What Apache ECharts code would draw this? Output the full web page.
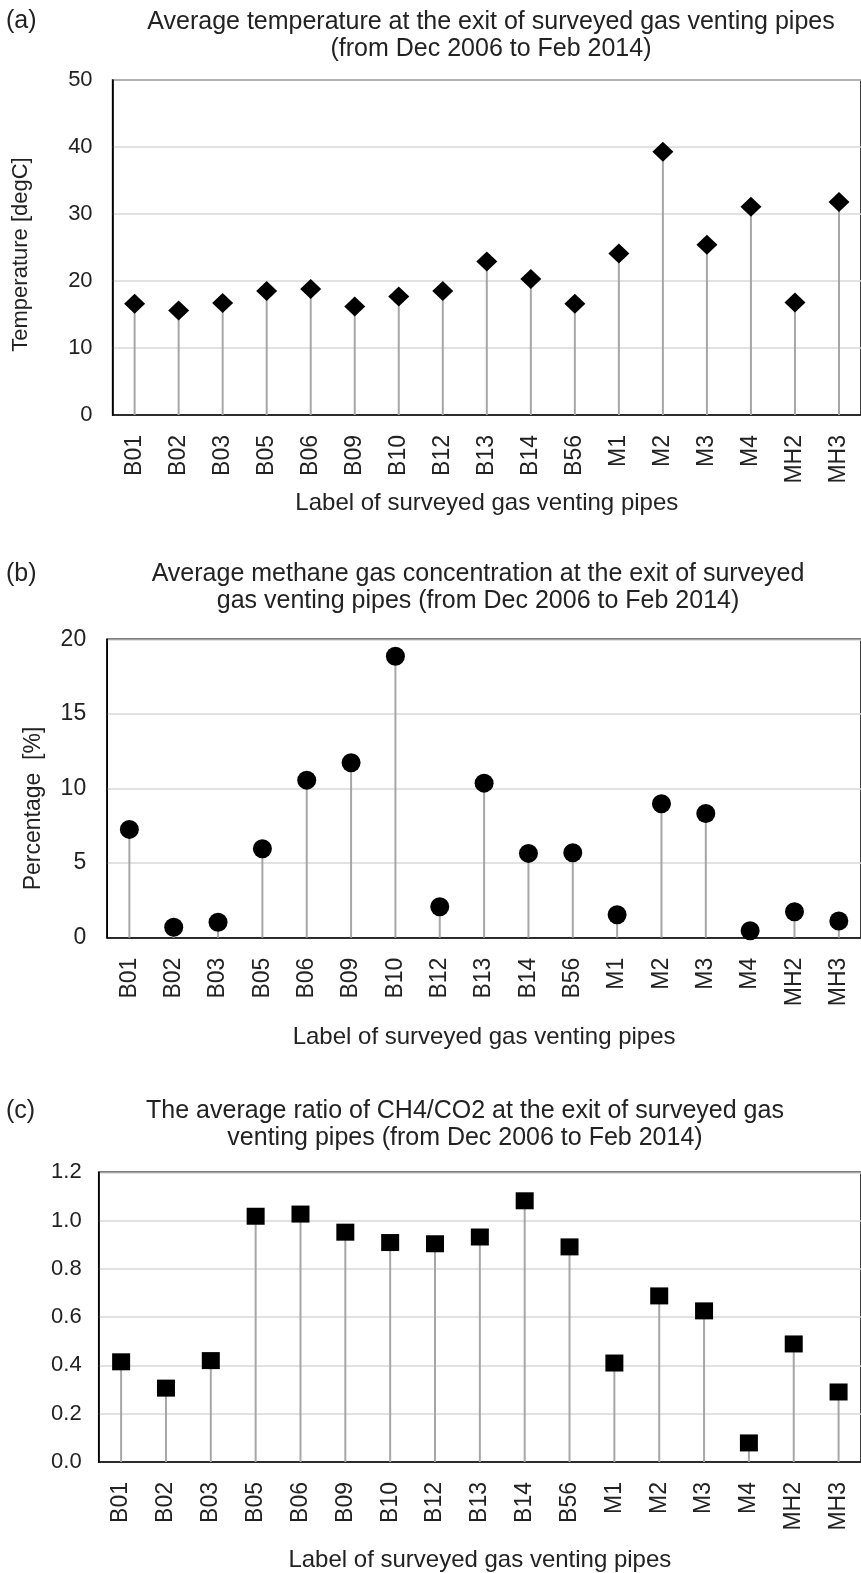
<!DOCTYPE html>
<html>
<head>
    <meta charset="utf-8">
    <title>Gas venting pipes</title>
    <script src="https://cdn.jsdelivr.net/npm/echarts@6/dist/echarts.min.js"></script>
    <style>
        html, body { margin: 0; padding: 0; background: #fff; }
    </style>
</head>
<body>
    <div id="main" style="width: 861px;height:1573px;"></div>
    <script>
        // pipe labels, shared by the three panels
        var pipes = ['B01','B02','B03','B05','B06','B09','B10','B12','B13','B14','B56','M1','M2','M3','M4','MH2','MH3'];

        // (a) average temperature [degC]
        var temperature = [16.6, 15.6, 16.7, 18.5, 18.8, 16.2, 17.7, 18.5, 22.9, 20.3, 16.6, 24.1, 39.3, 25.4, 31.1, 16.8, 31.8];
        // (b) average methane concentration [%]
        var methane = [7.26, 0.70, 1.03, 5.96, 10.56, 11.72, 18.87, 2.08, 10.36, 5.65, 5.69, 1.54, 8.98, 8.33, 0.47, 1.74, 1.12];
        // (c) average CH4/CO2 ratio
        var ratio = [0.415, 0.306, 0.42, 1.018, 1.027, 0.952, 0.909, 0.904, 0.932, 1.082, 0.891, 0.41, 0.688, 0.626, 0.079, 0.489, 0.29];

        var font = "'Liberation Sans', Arial, sans-serif";
        var ink = '#222';

        var myChart = echarts.init(document.getElementById('main'));

        function xAxisFor(idx, gap) {
            return {
                type: 'category',
                gridIndex: idx,
                data: pipes,
                axisTick: { show: false },
                axisLine: { lineStyle: { color: '#000', width: 1.5 } },
                axisLabel: { rotate: 90, margin: 20, fontSize: 23, color: ink, fontFamily: font, interval: 0 },
                name: 'Label of surveyed gas venting pipes',
                nameLocation: 'middle',
                nameGap: gap,
                nameTextStyle: { fontSize: 24, color: ink, fontFamily: font }
            };
        }

        function yAxisFor(idx, max, step, opts) {
            var ax = {
                type: 'value',
                gridIndex: idx,
                min: 0,
                max: max,
                interval: step,
                axisLine: { show: true, lineStyle: { color: '#000', width: 1.5 } },
                axisTick: { show: false },
                splitLine: { lineStyle: { color: '#d9d9d9', width: 1.5 } },
                axisLabel: { fontSize: 22, color: ink, fontFamily: font, margin: 20 }
            };
            return Object.assign(ax, opts || {});
        }

        function stems(idx, data) {
            return {
                type: 'bar',
                xAxisIndex: idx,
                yAxisIndex: idx,
                data: data,
                barWidth: 2,
                itemStyle: { color: '#a6a6a6' },
                silent: true
            };
        }

        function marks(idx, data, symbol, size) {
            return {
                type: 'scatter',
                xAxisIndex: idx,
                yAxisIndex: idx,
                data: data,
                symbol: symbol,
                symbolSize: size,
                itemStyle: { color: '#000', opacity: 1 },
                z: 5
            };
        }

        var titleStyle = { fontSize: 25, fontWeight: 'normal', color: ink, fontFamily: font, lineHeight: 27 };

        var option = {
            backgroundColor: '#fff',
            animation: false,
            title: [
                { text: '(a)', left: 6, top: 8, padding: 0, textStyle: titleStyle },
                { text: 'Average temperature at the exit of surveyed gas venting pipes\n(from Dec 2006 to Feb 2014)',
                  left: 491, top: 9, padding: 0, textAlign: 'center', textStyle: titleStyle },
                { text: '(b)', left: 6, top: 561, padding: 0, textStyle: titleStyle },
                { text: 'Average methane gas concentration at the exit of surveyed\ngas venting pipes (from Dec 2006 to Feb 2014)',
                  left: 478, top: 561, padding: 0, textAlign: 'center', textStyle: titleStyle },
                { text: '(c)', left: 6, top: 1098, padding: 0, textStyle: titleStyle },
                { text: 'The average ratio of CH4/CO2 at the exit of surveyed gas\nventing pipes (from Dec 2006 to Feb 2014)',
                  left: 465, top: 1098, padding: 0, textAlign: 'center', textStyle: titleStyle }
            ],
            grid: [
                { left: 112.6, top: 80, width: 758.6, height: 335, show: true, borderColor: '#000', borderWidth: 1.5 },
                { left: 107.2, top: 639.3, width: 764.2, height: 298.4, show: true, borderColor: '#000', borderWidth: 1.5 },
                { left: 98.7, top: 1172.3, width: 772.9, height: 290, show: true, borderColor: '#000', borderWidth: 1.5 }
            ],
            xAxis: [xAxisFor(0, 76), xAxisFor(1, 88), xAxisFor(2, 86)],
            yAxis: [
                yAxisFor(0, 50, 10, {
                    name: 'Temperature [degC]', nameLocation: 'middle', nameGap: 81,
                    nameTextStyle: { fontSize: 22, color: ink, fontFamily: font, padding: [0, 14, 0, 0] }
                }),
                yAxisFor(1, 20, 5, {
                    name: 'Percentage  [%]', nameLocation: 'middle', nameGap: 62,
                    axisLabel: { fontSize: 23, color: ink, fontFamily: font, margin: 21 },
                    nameTextStyle: { fontSize: 23, color: ink, fontFamily: font, padding: [0, 40, 0, 0] }
                }),
                yAxisFor(2, 1.2, 0.2, {
                    axisLabel: { fontSize: 22, color: ink, fontFamily: font, margin: 17,
                        formatter: function (v) { return v.toFixed(1); } }
                })
            ],
            series: [
                stems(0, temperature), marks(0, temperature, 'diamond', [21, 20]),
                stems(1, methane), marks(1, methane, 'circle', 19),
                stems(2, ratio), marks(2, ratio, 'rect', [18, 17])
            ]
        };

        myChart.setOption(option);
    </script>
</body>
</html>
